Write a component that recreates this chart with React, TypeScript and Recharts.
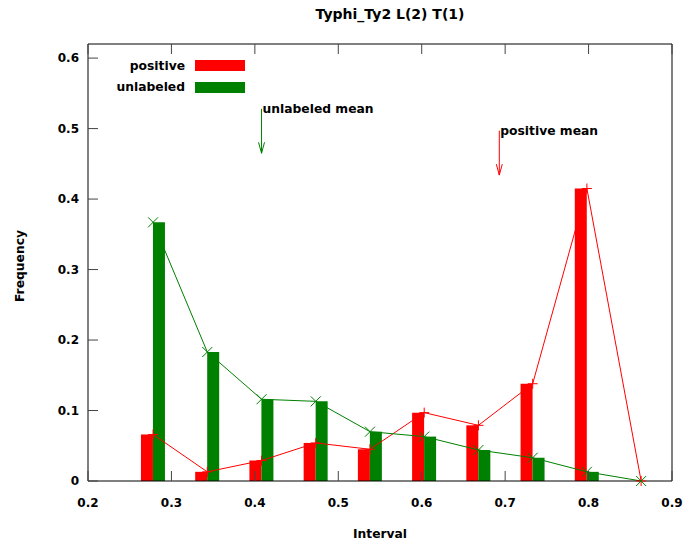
import React from "react";
import { Bar, ComposedChart, Legend, Line, ReferenceDot, ReferenceLine, XAxis, YAxis } from "recharts";

// bin centres on the interval axis
const intervals = [0.278, 0.343, 0.408, 0.473, 0.538, 0.603, 0.668, 0.733, 0.798, 0.863];
const positive = [0.066, 0.013, 0.029, 0.054, 0.045, 0.097, 0.079, 0.138, 0.415, 0];
const unlabeled = [0.367, 0.183, 0.116, 0.113, 0.07, 0.063, 0.044, 0.033, 0.013, 0];

const xTicks = [0.2, 0.3, 0.4, 0.5, 0.6, 0.7, 0.8, 0.9];
const yTicks = [0, 0.1, 0.2, 0.3, 0.4, 0.5, 0.6];

// mean markers: x position, arrow tail and tip on the frequency axis
const unlabeledMean = 0.408;
const unlabeledArrow = [0.528, 0.465];
const positiveMean = 0.693;
const positiveArrow = [0.497, 0.434];

const RED = "#ff0000";
const GREEN = "#008000";
const TICK = "#444444";
const font = { fontFamily: "'DejaVu Sans', sans-serif", fontWeight: 700 };
const LABEL_SIZE = 12.3;

const data = intervals.map((x, i) => ({ x, positive: positive[i], unlabeled: unlabeled[i] }));

const BottomTick = ({ x, y, payload }: any) => (
  <g>
    <line x1={x} y1={y} x2={x} y2={y - 10} stroke={TICK} />
    <text x={x} y={y + 22} textAnchor="middle" dominantBaseline="central" fontSize={12} fill="#000" style={font}>
      {payload.value}
    </text>
  </g>
);

const LeftTick = ({ x, y, payload }: any) => (
  <g>
    <line x1={x} y1={y} x2={x + 10} y2={y} stroke={TICK} />
    <text x={x - 9} y={y} textAnchor="end" dominantBaseline="central" fontSize={12} fill="#000" style={font}>
      {payload.value}
    </text>
  </g>
);

const TopTick = ({ x, y }: any) => <line x1={x} y1={y} x2={x} y2={y + 10} stroke={TICK} />;
const RightTick = ({ x, y }: any) => <line x1={x} y1={y} x2={x - 10} y2={y} stroke={TICK} />;

const PlusDot = ({ cx, cy }: any) => (
  <path d={`M${cx - 5},${cy}h10M${cx},${cy - 5}v10`} stroke={RED} strokeWidth={1} fill="none" />
);
const CrossDot = ({ cx, cy }: any) => (
  <path d={`M${cx - 5},${cy - 5}l10,10M${cx - 5},${cy + 5}l10,-10`} stroke={GREEN} strokeWidth={1} fill="none" />
);

const arrowHead = (color: string) => ({ cx, cy }: any) => (
  <path d={`M${cx - 3},${cy - 11}L${cx},${cy}L${cx + 3},${cy - 11}`} stroke={color} fill="none" />
);
const arrowText = (label: string) => ({ cx, cy }: any) => (
  <text x={cx + 1} y={cy} dominantBaseline="central" fontSize={LABEL_SIZE} fill="#000" style={font}>
    {label}
  </text>
);

const renderLegend = (props: any) => (
  <div>
    {props.payload
      .filter((entry: any) => entry.type !== "none")
      .map((entry: any) => (
        <div key={entry.value} style={{ display: "flex", alignItems: "center", height: 21.6 }}>
          <span style={{ ...font, fontSize: LABEL_SIZE, width: 185, textAlign: "right", color: "#000" }}>
            {entry.value}
          </span>
          <span style={{ width: 50, height: 11, marginLeft: 10, background: entry.color }} />
        </div>
      ))}
  </div>
);

export default function App() {
  return (
    <div style={{ position: "absolute", left: 0, top: 0, width: 694, height: 544, background: "#fff" }}>
      <ComposedChart
        width={694}
        height={544}
        data={data}
        barGap={0}
        margin={{ top: 43, right: 21, bottom: 62, left: 87 }}
      >
        <XAxis
          dataKey="x"
          type="number"
          domain={[0.2, 0.9]}
          ticks={xTicks}
          interval={0}
          height={1}
          tickSize={0}
          tickMargin={0}
          tickLine={false}
          axisLine={{ stroke: "#000" }}
          tick={BottomTick}
        />
        <XAxis
          xAxisId="top"
          orientation="top"
          dataKey="x"
          type="number"
          domain={[0.2, 0.9]}
          ticks={xTicks}
          interval={0}
          height={1}
          tickSize={0}
          tickMargin={0}
          tickLine={false}
          axisLine={{ stroke: "#000" }}
          tick={TopTick}
        />
        <YAxis
          type="number"
          domain={[0, 0.62]}
          ticks={yTicks}
          interval={0}
          width={1}
          tickSize={0}
          tickMargin={0}
          tickLine={false}
          axisLine={{ stroke: "#000" }}
          tick={LeftTick}
        />
        <YAxis
          yAxisId="right"
          orientation="right"
          type="number"
          domain={[0, 0.62]}
          ticks={yTicks}
          interval={0}
          width={1}
          tickSize={0}
          tickMargin={0}
          tickLine={false}
          axisLine={{ stroke: "#000" }}
          tick={RightTick}
        />
        <Legend
          layout="vertical"
          align="center"
          verticalAlign="middle"
          content={renderLegend}
          wrapperStyle={{ left: 0, top: 55, width: 260 }}
        />
        <Bar dataKey="positive" name="positive" fill={RED} barSize={12} isAnimationActive={false} />
        <Bar dataKey="unlabeled" name="unlabeled" fill={GREEN} barSize={12} isAnimationActive={false} />
        <Line
          dataKey="positive"
          stroke={RED}
          strokeWidth={1}
          dot={PlusDot}
          activeDot={false}
          legendType="none"
          isAnimationActive={false}
        />
        <Line
          dataKey="unlabeled"
          stroke={GREEN}
          strokeWidth={1}
          dot={CrossDot}
          activeDot={false}
          legendType="none"
          isAnimationActive={false}
        />
        <ReferenceLine
          segment={[
            { x: unlabeledMean, y: unlabeledArrow[0] },
            { x: unlabeledMean, y: unlabeledArrow[1] },
          ]}
          stroke={GREEN}
        />
        <ReferenceDot x={unlabeledMean} y={unlabeledArrow[1]} shape={arrowHead(GREEN)} />
        <ReferenceDot x={unlabeledMean} y={unlabeledArrow[0]} shape={arrowText("unlabeled mean")} />
        <ReferenceLine
          segment={[
            { x: positiveMean, y: positiveArrow[0] },
            { x: positiveMean, y: positiveArrow[1] },
          ]}
          stroke={RED}
        />
        <ReferenceDot x={positiveMean} y={positiveArrow[1]} shape={arrowHead(RED)} />
        <ReferenceDot x={positiveMean} y={positiveArrow[0]} shape={arrowText("positive mean")} />
      </ComposedChart>
      <div style={{ ...font, position: "absolute", left: 0, width: 780, top: 6, fontSize: 14, textAlign: "center" }}>
        Typhi_Ty2 L(2) T(1)
      </div>
      <div
        style={{ ...font, position: "absolute", left: 0, width: 760, top: 527, fontSize: LABEL_SIZE, textAlign: "center" }}
      >
        Interval
      </div>
      <div
        style={{
          ...font,
          position: "absolute",
          left: 20,
          top: 266,
          fontSize: LABEL_SIZE,
          whiteSpace: "nowrap",
          transform: "translate(-50%, -50%) rotate(-90deg)",
        }}
      >
        Frequency
      </div>
    </div>
  );
}
